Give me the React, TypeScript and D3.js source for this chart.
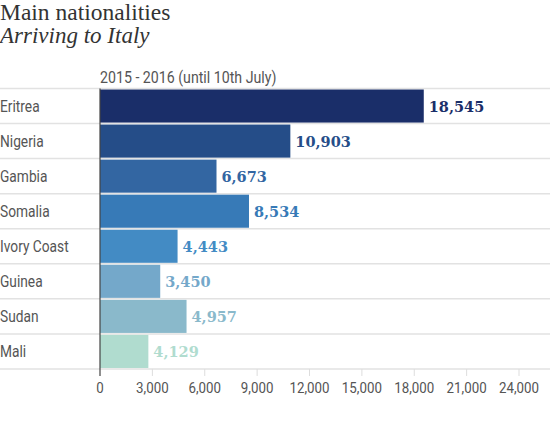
import React from "react";
import * as d3 from "d3";

const categories = ["Eritrea", "Nigeria", "Gambia", "Somalia", "Ivory Coast", "Guinea", "Sudan", "Mali"];
// bar lengths as drawn in the reference (the Mali bar is drawn shorter than its label)
const values = [18545, 10903, 6673, 8534, 4443, 3450, 4957, 2770];
const valueLabels = ["18,545", "10,903", "6,673", "8,534", "4,443", "3,450", "4,957", "4,129"];
const colors = ["#1a2e69", "#254d88", "#3366a2", "#377ab7", "#438bc4", "#74a8ca", "#8ab9cb", "#b0dccf"];
const ticks = [0, 3000, 6000, 9000, 12000, 15000, 18000, 21000, 24000];

const W = 550, H = 440;
const x0 = 100, x1 = 519;
const top = 88.5, rowH = 35.06;
const narrow = "Roboto, 'DejaVu Sans', sans-serif";
const sq = 0.86;

export default function App() {
  const x = d3.scaleLinear().domain([0, 24000]).range([x0, x1]);
  const y = d3.scaleBand().domain(categories).range([top, top + rowH * categories.length]).paddingInner(0);
  const bottom = top + rowH * categories.length;
  const fmt = d3.format(",");
  return (
    <svg width={W} height={H} style={{ position: "absolute", left: 0, top: 0, background: "#fff" }}>
      <text x={0} y={20} fontFamily="'Liberation Serif', serif" fontSize={23.5} fill="#333">Main nationalities</text>
      <text x={0} y={43} fontFamily="'Liberation Serif', serif" fontStyle="italic" fontSize={23} fill="#333">Arriving to Italy</text>
      <g transform={`translate(${x0},82.5) scale(${sq},1)`}>
        <text x={0} y={0} fontFamily={narrow} fontSize={16.5} fill="#555">2015 - 2016 (until 10th July)</text>
      </g>
      {categories.map((c) => (
        <line key={"g" + c} x1={0} x2={W} y1={y(c)!} y2={y(c)!} stroke="#e2e2e2" strokeWidth={1.5} />
      ))}
      <line x1={0} x2={W} y1={bottom} y2={bottom} stroke="#e2e2e2" strokeWidth={1.5} />
      {ticks.slice(1).map((t) => (
        <line key={"t" + t} x1={x(t)} x2={x(t)} y1={bottom} y2={bottom + 7} stroke="#ddd" strokeWidth={1} />
      ))}
      {categories.map((c, i) => (
        <g key={c}>
          <rect x={x(0)} y={y(c)! + 1} width={x(values[i]) - x(0)} height={y.bandwidth() - 2} fill={colors[i]} />
          <g transform={`translate(0,${y(c)! + y.bandwidth() / 2 + 5.5}) scale(${sq},1)`}>
            <text x={0} y={0} fontFamily={narrow} fontSize={16} fill="#555">{c}</text>
          </g>
          <text x={x(values[i]) + 5} y={y(c)! + y.bandwidth() / 2 + 5.5} fontFamily="'DejaVu Serif', serif" fontWeight="bold" fontSize={14.5} fill={colors[i]}>{valueLabels[i]}</text>
        </g>
      ))}
      <line x1={x(0)} x2={x(0)} y1={top} y2={bottom + 7} stroke="#444" strokeWidth={1.2} />
      {ticks.map((t) => (
        <g key={"l" + t} transform={`translate(${x(t)},393) scale(${sq},1)`}>
          <text x={0} y={0} textAnchor="middle" fontFamily={narrow} fontSize={15.5} fill="#555">{fmt(t)}</text>
        </g>
      ))}
    </svg>
  );
}
